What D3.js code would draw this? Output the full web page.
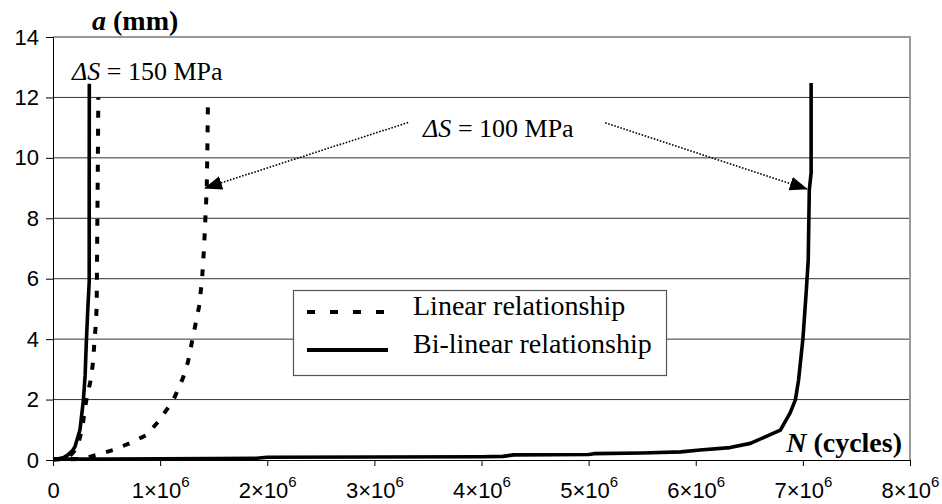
<!DOCTYPE html>
<html>
<head>
<meta charset="utf-8">
<script src="https://cdn.jsdelivr.net/npm/d3@7"></script>
<style>
  body { margin: 0; background: #fff; }
  svg { display: block; }
</style>
</head>
<body>
<svg id="chart" width="942" height="504"></svg>
<script>
// crack depth a (mm) vs number of cycles N
var yTicks = [0, 2, 4, 6, 8, 10, 12, 14];
var xTicks = [0, 1e6, 2e6, 3e6, 4e6, 5e6, 6e6, 7e6, 8e6];

// dS = 150 MPa, linear relationship (dashed)
var lin150N = [0, 0.10e6, 0.15e6, 0.20e6, 0.24e6, 0.27e6, 0.31e6, 0.352e6, 0.376e6, 0.386e6, 0.40e6, 0.408e6, 0.412e6, 0.418e6, 0.423e6];
var lin150A = [0.02, 0.04, 0.10, 0.30, 0.60, 1.0, 1.96, 2.65, 3.3, 3.9, 4.5, 5.1, 7.0, 9.5, 12.0];

// dS = 150 MPa, bi-linear relationship (solid)
var bil150N = [0, 0.05e6, 0.10e6, 0.14e6, 0.18e6, 0.205e6, 0.252e6, 0.283e6, 0.30e6, 0.31e6, 0.325e6, 0.338e6, 0.338e6, 0.339e6];
var bil150A = [0.03, 0.04, 0.08, 0.17, 0.30, 0.44, 1.0, 1.96, 2.8, 3.8, 5.0, 5.9, 9.0, 12.45];

// dS = 100 MPa, linear relationship (dashed)
var lin100N = [0, 0.25e6, 0.31e6, 0.41e6, 0.56e6, 0.72e6, 0.875e6, 0.98e6, 1.12e6, 1.214e6, 1.26e6, 1.295e6, 1.363e6, 1.391e6, 1.41e6, 1.419e6, 1.426e6, 1.435e6, 1.44e6, 1.447e6];
var lin100A = [0.02, 0.03, 0.07, 0.17, 0.33, 0.56, 0.83, 1.26, 1.96, 2.72, 3.25, 3.87, 5.07, 5.96, 7.02, 7.72, 8.28, 9.0, 10.0, 12.0];

// dS = 100 MPa, bi-linear relationship (solid)
var bil100N = [0, 0.5e6, 1.0e6, 1.5e6, 1.9e6, 2.0e6, 3.0e6, 4.0e6, 4.2e6, 4.3e6, 5.0e6, 5.05e6, 5.5e6, 5.86e6, 6.04e6, 6.32e6, 6.51e6, 6.69e6, 6.79e6, 6.88e6, 6.93e6, 6.96e6, 7.0e6, 7.03e6, 7.05e6, 7.06e6, 7.077e6, 7.077e6];
var bil100A = [0.03, 0.03, 0.04, 0.05, 0.06, 0.09, 0.10, 0.11, 0.12, 0.17, 0.18, 0.21, 0.23, 0.27, 0.33, 0.41, 0.55, 0.83, 0.99, 1.55, 1.99, 2.65, 4.0, 5.5, 6.62, 8.94, 9.5, 12.48];

var legendLabels = ['Linear relationship', 'Bi-linear relationship'];

// annotation: label anchor and arrow (start -> tip) in data units
var label150 = [0.177e6, 12.58];
var label100 = [3.455e6, 10.7];
var arrowsFrom = [[3.315e6, 11.17], [5.154e6, 11.16]];
var arrowsTo = [[1.419e6, 9.0], [7.037e6, 8.97]];

var svg = d3.select('#chart');
var margin = { left: 53, right: 32, top: 37, bottom: 44 };
var width = 942, height = 504;

var x = d3.scaleLinear().domain([0, 8e6]).range([margin.left, width - margin.right]);
var y = d3.scaleLinear().domain([0, 14]).range([height - margin.bottom, margin.top]);

var serif = '"Liberation Serif", "Times New Roman", serif';
var sans = '"Liberation Sans", Arial, sans-serif';

// gridlines
svg.append('g')
	.selectAll('line')
	.data(yTicks.filter(function(d){ return d > 0 && d < 14; }))
	.join('line')
	.attr('x1', x(0)).attr('x2', x(8e6))
	.attr('y1', function(d){ return y(d); })
	.attr('y2', function(d){ return y(d); })
	.attr('stroke', '#333')
	.attr('stroke-width', 1);

// plot area border (top + right, grey)
svg.append('path')
	.attr('d', 'M' + x(0) + ',' + y(14) + 'H' + x(8e6) + 'V' + y(0))
	.attr('fill', 'none')
	.attr('stroke', '#999')
	.attr('stroke-width', 2);

// y axis
var yAxis = d3.axisLeft(y).tickValues(yTicks).tickSize(7).tickPadding(7).tickFormat(d3.format('d'));
var gy = svg.append('g').attr('transform', 'translate(' + x(0) + ',0)').call(yAxis);
gy.select('.domain').attr('stroke', '#000');
gy.selectAll('.tick line').attr('stroke', '#000');
gy.selectAll('.tick text').attr('font-family', sans).attr('font-size', 22).attr('fill', '#000');

// x axis
var xAxis = d3.axisBottom(x).tickValues(xTicks).tickSize(6).tickPadding(10).tickFormat(function(){ return ''; });
var gx = svg.append('g').attr('transform', 'translate(0,' + y(0) + ')').call(xAxis);
gx.select('.domain').attr('stroke', '#000');
gx.selectAll('.tick line').attr('stroke', '#000');
gx.selectAll('.tick text').each(function(d){
	var t = d3.select(this)
		.attr('font-family', sans).attr('font-size', 22).attr('fill', '#000')
		.attr('dy', '1.02em');
	if (d === 0) { t.text('0'); return; }
	t.append('tspan').text((d / 1e6) + '\u00d710');
	t.append('tspan').attr('font-size', 15).attr('dy', '-0.75em').text('6');
});

// curves
var line = d3.line()
	.x(function(d){ return x(d[0]); })
	.y(function(d){ return y(d[1]); });

function pairs(ns, as) {
	return ns.map(function(n, i){ return [n, as[i]]; });
}

var series = [
	{ data: pairs(lin150N, lin150A), dash: '7,11' },
	{ data: pairs(lin100N, lin100A), dash: '7,11' },
	{ data: pairs(bil150N, bil150A), dash: null },
	{ data: pairs(bil100N, bil100A), dash: null }
];

series.forEach(function(s){
	svg.append('path')
		.attr('d', line(s.data))
		.attr('fill', 'none')
		.attr('stroke', '#000')
		.attr('stroke-width', s.dash ? 4 : 3.6)
		.attr('stroke-linejoin', 'round')
		.attr('stroke-dasharray', s.dash);
});

// legend
var lg = svg.append('g');
lg.append('rect')
	.attr('x', 293.5).attr('y', 290.5)
	.attr('width', 373).attr('height', 85)
	.attr('fill', '#fff')
	.attr('stroke', '#555')
	.attr('stroke-width', 1.2);
legendLabels.forEach(function(lab, i){
	var ly = 312 + i * 38;
	lg.append('line')
		.attr('x1', 307).attr('x2', 388)
		.attr('y1', ly).attr('y2', ly)
		.attr('stroke', '#000')
		.attr('stroke-width', 4)
		.attr('stroke-dasharray', i === 0 ? '8,15' : null);
	lg.append('text')
		.attr('x', 413).attr('y', ly + 3)
		.attr('font-family', serif).attr('font-size', 28)
		.text(lab);
});

// axis titles
var ta = svg.append('text')
	.attr('x', 92).attr('y', 30)
	.attr('font-family', serif).attr('font-size', 28).attr('font-weight', 'bold');
ta.append('tspan').attr('font-style', 'italic').text('a');
ta.append('tspan').text(' (mm)');

var tn = svg.append('text')
	.attr('x', 902).attr('y', 452)
	.attr('text-anchor', 'end')
	.attr('font-family', serif).attr('font-size', 28).attr('font-weight', 'bold');
tn.append('tspan').attr('font-style', 'italic').text('N');
tn.append('tspan').text(' (cycles)');

// stress range labels
function stressLabel(pos, val) {
	var t = svg.append('text')
		.attr('x', x(pos[0])).attr('y', y(pos[1]))
		.attr('font-family', serif).attr('font-size', 26);
	t.append('tspan').attr('font-style', 'italic').text('\u0394S');
	t.append('tspan').text(' = ' + val + ' MPa');
}
stressLabel(label150, 150);
stressLabel(label100, 100);

// arrows
svg.append('defs').append('marker')
	.attr('id', 'arrow')
	.attr('markerUnits', 'userSpaceOnUse')
	.attr('markerWidth', 20).attr('markerHeight', 14)
	.attr('refX', 17).attr('refY', 7)
	.attr('orient', 'auto')
	.append('path')
	.attr('d', 'M0,0 L18,7 L0,14 Z')
	.attr('fill', '#000');

arrowsFrom.forEach(function(f, i){
	var t = arrowsTo[i];
	svg.append('line')
		.attr('x1', x(f[0])).attr('y1', y(f[1]))
		.attr('x2', x(t[0])).attr('y2', y(t[1]))
		.attr('stroke', '#000')
		.attr('stroke-width', 1.6)
		.attr('stroke-dasharray', '1.6,1.6')
		.attr('marker-end', 'url(#arrow)');
});
</script>
</body>
</html>
